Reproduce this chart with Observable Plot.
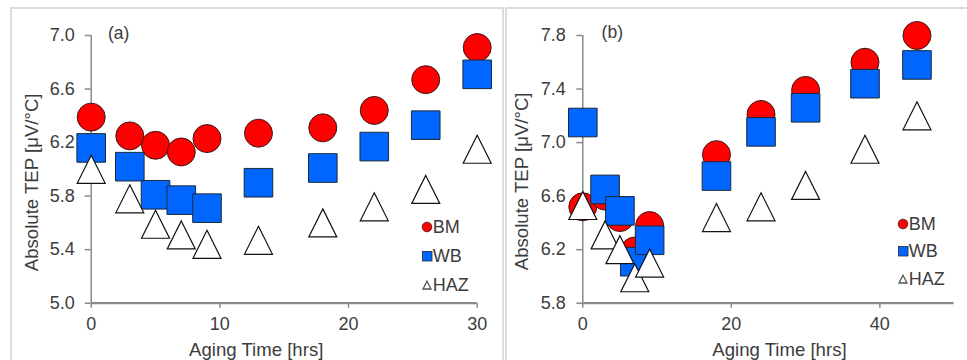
<!DOCTYPE html>
<html>
<head>
<meta charset="utf-8">
<script src="https://cdn.jsdelivr.net/npm/d3@7"></script>
<script src="https://cdn.jsdelivr.net/npm/@observablehq/plot@0.6"></script>
<style>
  body { margin: 0; background: #fff; }
  #wrap { position: relative; width: 967px; height: 360px; overflow: hidden; background: #fff; font-family: "Liberation Sans", Arial, sans-serif; }
  .panel { position: absolute; box-sizing: border-box; border: 2px solid #dcdcdc; }
  .plot { position: absolute; top: 0; }
  .legend { position: absolute; font-size: 18px; color: #3c3c3c; line-height: 1; }
  .legend .row { position: absolute; display: flex; align-items: center; white-space: nowrap; }
  .legend svg { display: block; margin-right: 0px; }
</style>
</head>
<body>
<div id="wrap">
  <div class="panel" style="left:10px; top:7px; width:494px; height:400px;"></div>
  <div class="panel" style="left:505px; top:7px; width:500px; height:400px;"></div>
</div>
<script>
// ---------- data ----------
const seriesNames = ["BM", "WB", "HAZ"];

// panel (a)
const timeA = [0, 3, 5, 7, 9, 13, 18, 22, 26, 30];
const bmA   = [6.39, 6.25, 6.18, 6.13, 6.23, 6.27, 6.31, 6.44, 6.67, 6.91];
const wbA   = [6.16, 6.02, 5.81, 5.77, 5.71, 5.90, 6.01, 6.17, 6.33, 6.71];
const hazA  = [6.00, 5.78, 5.59, 5.51, 5.44, 5.47, 5.60, 5.72, 5.85, 6.15];
const xTicksA = [0, 10, 20, 30];
const yTicksA = [5.0, 5.4, 5.8, 6.2, 6.6, 7.0];

// panel (b)
const timeB = [0, 3, 5, 7, 9, 18, 24, 30, 38, 45];
const bmB   = [6.52, 6.60, 6.44, 6.19, 6.38, 6.91, 7.21, 7.39, 7.60, 7.80];
const wbB   = [7.15, 6.65, 6.49, 6.11, 6.27, 6.75, 7.08, 7.26, 7.44, 7.58];
const hazB  = [6.53, 6.31, 6.20, 5.99, 6.10, 6.44, 6.52, 6.68, 6.95, 7.20];
const xTicksB = [0, 20, 40];
const yTicksB = [5.8, 6.2, 6.6, 7.0, 7.4, 7.8];

const xLabel = "Aging Time [hrs]";
const yLabel = "Absolute TEP [\u03bcV/\u00b0C]";
const panelLabels = ["(a)", "(b)"];

// ---------- symbols / styles ----------
const squareSym = {draw(c, size) { const r = Math.sqrt(size / Math.PI); c.moveTo(-r, -r); c.lineTo(r, -r); c.lineTo(r, r); c.lineTo(-r, r); c.closePath(); }};
const triSym = {draw(c, size) { const r = Math.sqrt(size / Math.PI); c.moveTo(0, -r); c.lineTo(r, r); c.lineTo(-r, r); c.closePath(); }};
const styles = {
  BM:  {symbol: "circle", r: 14,   fill: "#ff0000", stroke: "#3a1a1a", strokeWidth: 1},
  WB:  {symbol: squareSym, r: 14.3, fill: "#0066ff", stroke: "#1a2a3a", strokeWidth: 1},
  HAZ: {symbol: triSym, r: 14, fill: "#ffffff", stroke: "#111111", strokeWidth: 1.2}
};
const textColor = "#3c3c3c";
const axisColor = "#8a8a8a";
const FS = 18;

function rows(time, values) {
  return time.map((t, i) => ({t, v: values[i]}));
}

function panel({left, width, mL, mR, domainX, domainY, xTicks, yTicks, bm, wb, haz, time, label, xTitleDx, yTitleDx, yTitleDy, labDx, labDy, yPad}) {
  const data = {BM: rows(time, bm), WB: rows(time, wb), HAZ: rows(time, haz)};
  const plot = Plot.plot({
    width, height: 360,
    marginLeft: mL, marginRight: mR, marginTop: 35, marginBottom: 57.3,
    style: {fontFamily: "'Liberation Sans', Arial, sans-serif", fontSize: FS + "px", color: textColor, background: "transparent", overflow: "visible"},
    x: {domain: domainX},
    y: {domain: domainY},
    marks: [
      Plot.axisX({ticks: xTicks, tickSize: 5, tickPadding: 9.5, stroke: axisColor, strokeWidth: 1.5, fill: textColor, label: null, fontSize: FS}),
      Plot.axisY({ticks: yTicks, tickSize: 6, tickPadding: yPad, tickFormat: d3.format(".1f"), stroke: axisColor, strokeWidth: 1.5, fill: textColor, label: null, fontSize: FS}),
      Plot.ruleX([domainX[0]], {stroke: axisColor, strokeWidth: 1.5}),
      Plot.ruleY([domainY[0]], {stroke: axisColor, strokeWidth: 2.2}),
      ...seriesNames.map(s => Plot.dot(data[s], {x: "t", y: "v", ...styles[s]})),
      Plot.text([xLabel], {frameAnchor: "bottom", dx: xTitleDx, dy: 46.5, lineAnchor: "middle", fill: textColor, fontSize: 18.6}),
      Plot.text([yLabel], {frameAnchor: "left", dx: yTitleDx, dy: yTitleDy, rotate: -90, textAnchor: "middle", lineAnchor: "middle", fill: textColor, fontSize: 18.6}),
      Plot.text([label], {frameAnchor: "top-left", dx: labDx, dy: labDy, textAnchor: "middle", lineAnchor: "middle", fill: textColor, fontSize: 17.5})
    ]
  });
  plot.classList.add("plot");
  plot.style.left = left + "px";
  document.getElementById("wrap").appendChild(plot);
}

panel({left: 0, width: 500, mL: 90.7, mR: 23.3, domainX: [0, 30], domainY: [5, 7],
  xTicks: xTicksA, yTicks: yTicksA, time: timeA, bm: bmA, wb: wbA, haz: hazA, label: panelLabels[0],
  xTitleDx: -28, yTitleDx: -58.7, yTitleDy: 13, labDx: 27.5, labDy: -2, yPad: 10.5});
panel({left: 500, width: 467, mL: 82.3, mR: 13.4, domainX: [0, 50], domainY: [5.8, 7.8],
  xTicks: xTicksB, yTicks: yTicksB, time: timeB, bm: bmB, wb: wbB, haz: hazB, label: panelLabels[1],
  xTitleDx: 11, yTitleDx: -60.6, yTitleDy: 12, labDx: 29.5, labDy: -3, yPad: 11});

// ---------- legends ----------
function legendSymbol(s) {
  const ns = "http://www.w3.org/2000/svg";
  const svg = document.createElementNS(ns, "svg");
  svg.setAttribute("width", 12); svg.setAttribute("height", 12);
  let el;
  if (s === "BM") { el = document.createElementNS(ns, "circle"); el.setAttribute("cx", 6); el.setAttribute("cy", 6); el.setAttribute("r", 4.8); }
  else if (s === "WB") { el = document.createElementNS(ns, "rect"); el.setAttribute("x", 1.5); el.setAttribute("y", 1.5); el.setAttribute("width", 9.5); el.setAttribute("height", 9.5); }
  else { el = document.createElementNS(ns, "path"); el.setAttribute("d", "M6,2.2L10,10L2,10Z"); }
  el.setAttribute("fill", styles[s].fill);
  el.setAttribute("stroke", s === "HAZ" ? "#555" : styles[s].stroke);
  el.setAttribute("stroke-width", s === "HAZ" ? 1.3 : 0.8);
  svg.appendChild(el);
  return svg;
}
function legend(x, ys) {
  const box = document.createElement("div");
  box.className = "legend";
  seriesNames.forEach((s, i) => {
    const row = document.createElement("div");
    row.className = "row";
    row.style.left = (x - 6) + "px";
    row.style.top = (ys[i] - 9) + "px";
    row.style.height = "18px";
    row.appendChild(legendSymbol(s));
    const t = document.createElement("span");
    t.textContent = s;
    row.appendChild(t);
    box.appendChild(row);
  });
  document.getElementById("wrap").appendChild(box);
}
legend(426.7, [226.5, 255.5, 284.5]);
legend(902.7, [223.5, 251, 278.5]);
</script>
</body>
</html>
